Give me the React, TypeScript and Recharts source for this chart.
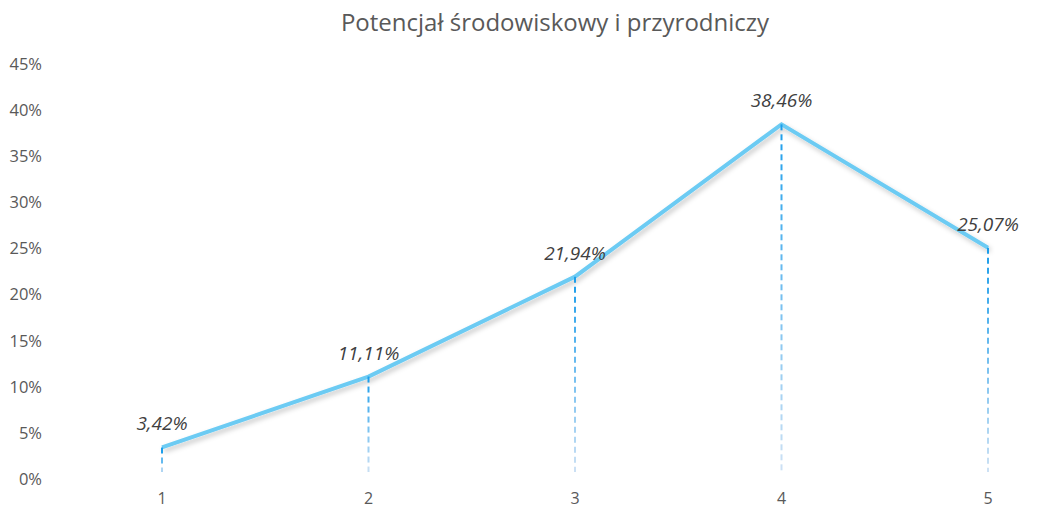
import React from 'react';
import { LineChart, Line, XAxis, YAxis, ReferenceLine, LabelList } from 'recharts';

const categories = ['1', '2', '3', '4', '5'];
const values = [3.42, 11.11, 21.94, 38.46, 25.07];
const yTicks = [0, 5, 10, 15, 20, 25, 30, 35, 40, 45];
const title = 'Potencjał środowiskowy i przyrodniczy';

const data = categories.map((c, i) => ({ cat: c, value: values[i] }));

const FONT = '"Open Sans", "Noto Sans", sans-serif';

const mix = (a: number[], b: number[], t: number) =>
  `rgb(${a.map((v, i) => Math.round(v + (b[i] - v) * t)).join(',')})`;

const DropLine = (props: any) => {
  const { x1, y1, y2 } = props;
  if (x1 == null || y1 == null || y2 == null) return null;
  const top = Math.min(y1, y2);
  const bottom = Math.max(y1, y2) - 7;
  const len = bottom - top;
  const segs: React.ReactNode[] = [];
  const top_c = [28, 158, 235];
  const bot_c = [208, 226, 244];
  let y = top;
  let k = 0;
  while (y < bottom) {
    const e = Math.min(y + 6, bottom);
    const t = len > 0 ? (y - top) / len : 0;
    segs.push(
      <line key={k++} x1={x1} x2={x1} y1={y} y2={e} stroke={mix(top_c, bot_c, t)} strokeWidth={2} />
    );
    y += 10;
  }
  return <g>{segs}</g>;
};

export default function App() {
  return (
    <div style={{ position: 'relative', width: 1033, height: 507, fontFamily: FONT }}>
      <div
        style={{
          position: 'absolute',
          left: 547 - 400,
          width: 800,
          top: 0,
          textAlign: 'center',
          fontSize: 24,
          lineHeight: '28px',
          color: '#595959',
        }}
      >
        {title}
      </div>
      <LineChart width={1033} height={507} data={data} margin={{ top: 56, right: 20, bottom: 0, left: 0 }}>
        <defs>
          <filter id="lineShadow" x="-10%" y="-10%" width="120%" height="130%">
            <feDropShadow dx="2" dy="3" stdDeviation="2.5" floodColor="#000" floodOpacity="0.22" />
          </filter>
        </defs>
        <XAxis
          dataKey="cat"
          axisLine={false}
          tickLine={false}
          tickSize={0}
          tickMargin={14}
          height={36}
          padding={{ left: 109, right: 33 }}
          tick={{ fontSize: 16, fill: '#595959', fontFamily: FONT }}
        />
        <YAxis
          domain={[0, 45]}
          ticks={yTicks}
          axisLine={false}
          tickLine={false}
          tickSize={0}
          tickMargin={11}
          width={45}
          tickFormatter={(v: number) => `${v}%`}
          tick={{ fontSize: 16.5, fill: '#595959', fontFamily: FONT }}
        />
        <Line
          type="linear"
          dataKey="value"
          stroke="#6ccbf3"
          strokeWidth={4}
          dot={false}
          activeDot={false}
          isAnimationActive={false}
          filter="url(#lineShadow)"
        >
          <LabelList
            dataKey="value"
            position="top"
            offset={17}
            formatter={(v: any) => `${Number(v).toFixed(2).replace('.', ',')}%`}
            style={{ fontSize: 19, fontStyle: 'italic', fill: '#404040', fontFamily: FONT }}
          />
        </Line>
        {data.map((d) => (
          <ReferenceLine
            key={d.cat}
            segment={[
              { x: d.cat, y: 0 },
              { x: d.cat, y: d.value },
            ]}
            shape={DropLine}
          />
        ))}
      </LineChart>
    </div>
  );
}
